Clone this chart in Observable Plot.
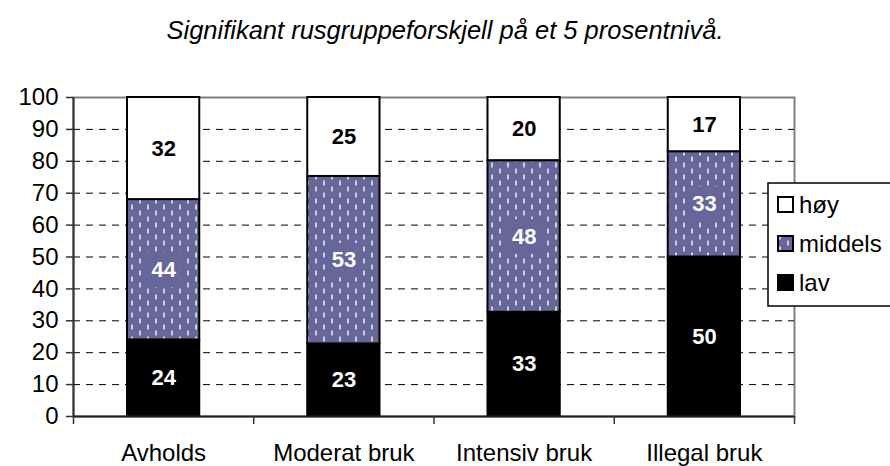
<!DOCTYPE html>
<html>
<head>
<meta charset="utf-8">
<script src="https://cdn.jsdelivr.net/npm/d3@7"></script>
<script src="https://cdn.jsdelivr.net/npm/@observablehq/plot@0.6"></script>
<style>
  html, body { margin: 0; padding: 0; background: #fff; overflow: hidden; }
  #wrap { position: relative; width: 890px; height: 466px; font-family: "Liberation Sans", Arial, sans-serif; }
  #title { position: absolute; left: 0; top: 16px; width: 890px; text-align: center; font-style: italic; font-size: 25.5px; color: #000; }
  #chart { position: absolute; left: 0; top: 0; }
</style>
</head>
<body>
<div id="wrap">
  <div id="chart"></div>
  <div id="title">Signifikant rusgruppeforskjell på et 5 prosentnivå.</div>
</div>
<script>
const title = "Signifikant rusgruppeforskjell på et 5 prosentnivå.";
const categories = ["Avholds", "Moderat bruk", "Intensiv bruk", "Illegal bruk"];
const lav = [24, 23, 33, 50];
const middels = [44, 53, 48, 33];
const hoy = [32, 25, 20, 17];
const seriesNames = ["lav", "middels", "høy"];
const legendOrder = ["høy", "middels", "lav"];
const yTicks = [0, 10, 20, 30, 40, 50, 60, 70, 80, 90, 100];

const seriesValues = {"lav": lav, "middels": middels, "høy": hoy};
const purple = "#666699";

// 100 % stacked columns (each column normalized to 100)
const rows = [];
categories.forEach((c, i) => {
  const total = seriesNames.reduce((a, s) => a + seriesValues[s][i], 0);
  let acc = 0;
  seriesNames.forEach(s => {
    const v = seriesValues[s][i];
    rows.push({cat: c, i, series: s, value: v, y1: acc / total * 100, y2: (acc + v) / total * 100});
    acc += v;
  });
});
const of = s => rows.filter(d => d.series === s);
const barOpts = {x1: d => d.i, x2: d => d.i + 1, y1: "y1", y2: "y2", insetLeft: 54, insetRight: 54, stroke: "black", strokeWidth: 2};

const chart = Plot.plot({
  width: 890,
  height: 466,
  marginLeft: 73,
  marginRight: 96,
  marginTop: 97,
  marginBottom: 50,
  style: {fontFamily: "'Liberation Sans', Arial, sans-serif", background: "transparent", overflow: "visible"},
  x: {type: "linear", domain: [0, categories.length], axis: null},
  y: {domain: [0, 100], axis: null},
  marks: [
    Plot.frame({stroke: "#808080", strokeWidth: 2}),
    Plot.ruleY(yTicks.filter(t => t > 0 && t < 100), {stroke: "black", strokeWidth: 1, strokeDasharray: "7,6"}),
    Plot.rect(of("lav"), {...barOpts, fill: "black"}),
    Plot.rect(of("middels"), {...barOpts, fill: purple}),
    Plot.rect(of("høy"), {...barOpts, fill: "white"}),
    Plot.dot(of("middels"), {x: d => d.i + 0.5, y: d => (d.y1 + d.y2) / 2, symbol: "square", r: 19.5, fill: purple, stroke: "none"}),
    Plot.text(rows, {
      x: d => d.i + 0.5, y: d => (d.y1 + d.y2) / 2, text: d => String(d.value),
      fill: d => d.series === "høy" ? "black" : "white",
      fontWeight: "bold", fontSize: 22
    }),
    Plot.ruleX([0], {stroke: "#333", strokeWidth: 2}),
    Plot.ruleY([0], {stroke: "#222", strokeWidth: 2}),
    Plot.axisY(yTicks, {tickSize: 7, tickPadding: 8, fontSize: 24, stroke: "#333", strokeWidth: 1.5, fill: "black"}),
    Plot.axisX(d3.range(categories.length + 1), {tickSize: 8, tickFormat: () => "", stroke: "#333", strokeWidth: 1.5}),
    Plot.axisX(categories.map((c, i) => i + 0.5), {tickSize: 0, tickPadding: 27, fontSize: 24, tickFormat: (d, i) => categories[i], fill: "black"})
  ]
});
document.getElementById("chart").appendChild(chart);

const svg = d3.select(chart);
// swap the solid middels bars to the dashed pattern (before the pattern itself exists)
svg.selectAll("rect").filter(function() {
  const own = this.getAttribute("fill");
  const par = this.parentNode && this.parentNode.getAttribute && this.parentNode.getAttribute("fill");
  return own === purple || (!own && par === purple);
}).attr("fill", "url(#dashPat)");

const defs = svg.insert("defs", ":first-child");
const pat = defs.append("pattern").attr("id", "dashPat").attr("patternUnits", "userSpaceOnUse")
  .attr("width", 16).attr("height", 12);
pat.append("rect").attr("width", 16).attr("height", 12).attr("fill", purple);
[[4, 0.5], [12, 6.5]].forEach(([x, y]) => {
  pat.append("line").attr("x1", x).attr("x2", x).attr("y1", y).attr("y2", y + 5)
    .attr("stroke", "white").attr("stroke-width", 1.5).attr("stroke-opacity", 0.9);
});

// legend
const fills = {"høy": "white", "middels": "url(#dashPat)", "lav": "black"};
const lg = svg.append("g").attr("font-family", "'Liberation Sans', Arial, sans-serif").attr("text-anchor", "start");
lg.append("rect").attr("x", 768).attr("y", 183).attr("width", 140).attr("height", 123)
  .attr("fill", "white").attr("stroke", "black").attr("stroke-width", 1.5);
legendOrder.forEach((s, k) => {
  const cy = 205 + k * 39;
  lg.append("rect").attr("x", 778).attr("y", cy - 8).attr("width", 15).attr("height", 15)
    .attr("fill", fills[s]).attr("stroke", "black").attr("stroke-width", 2);
  lg.append("text").attr("x", 799).attr("y", cy).attr("dy", "0.35em").attr("text-anchor", "start")
    .attr("font-size", 24).attr("fill", "black").text(s);
});
</script>
</body>
</html>
